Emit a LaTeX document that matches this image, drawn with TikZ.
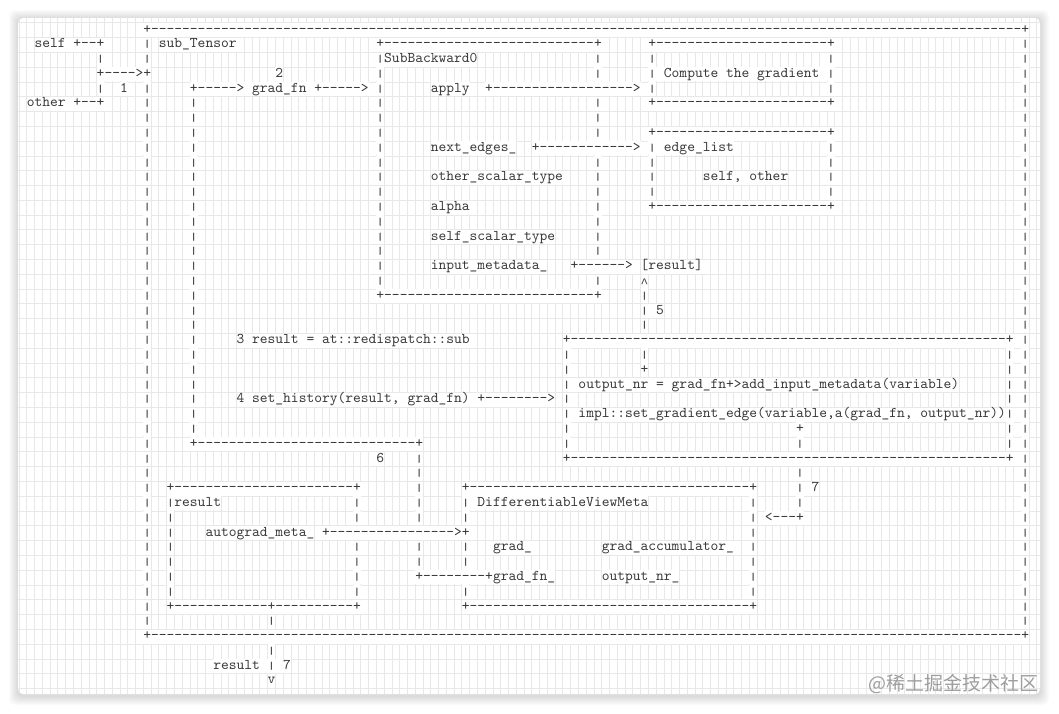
\documentclass[tikz,border=0pt]{standalone}
\usepackage{fontspec}
\usepackage{graphicx}
\newfontfamily\asciifont{lmmono10-regular}[Extension=.otf,WordSpace={1,0,0},PunctuationSpace=WordSpace]
\newfontfamily\caretfont{Liberation Mono}
\newfontfamily\wmfont{Noto Sans CJK SC}
\ExplSyntaxOn
\cs_new:Npn \asciirep #1#2 { \prg_replicate:nn {#1} {#2} }
\ExplSyntaxOff
\newcount\nidx
\def\axo{26.6}\def\ayo{30}\def\acw{7.77}\def\arh{14.795}
\newcommand\asciibar{\scalebox{1}[0.72]{|}}
\newcommand\At[3]{\global\advance\nidx by 1\relax\node[asc] (n\the\nidx) at ({\axo+\acw*(#1)},{\ayo+\arh*(#2)}) {#3};}
\newcommand\Vb[3]{\foreach \rr in {#2,...,#3}{\At{#1}{\rr}{\asciibar}}}
\newcommand\Hl[3]{\At{#1}{#3}{+\asciirep{\numexpr#2-#1-1\relax}{-}+}}
\begin{document}
\begin{tikzpicture}[x=1pt,y=-1pt,
  asc/.style={anchor=west,inner sep=0pt,text height=10pt,text depth=4pt,fill=white,
    text=black!78,font=\asciifont\fontsize{14.8}{15}\selectfont},
  gridline/.style={draw=black!9,line width=0.5pt}]
\useasboundingbox (0,0) rectangle (1059,713);
\fill[white] (0,0) rectangle (1059,713);
% card shadow
\foreach \i in {1,...,9}{\fill[black,opacity=0.014,rounded corners=6] ({18-\i},{19-\i}) rectangle ({1040+\i},{696+\i});}
\fill[white,rounded corners=5] (18,18) rectangle (1040,694);
% grid
\begin{scope}
\clip[rounded corners=5] (18,18) rectangle (1040,694);
\foreach \k in {-1,...,130}{\draw[gridline] ({\axo+\acw*\k},18) -- ({\axo+\acw*\k},694);}
\foreach \r in {-1,...,44}{\draw[gridline] (18,{\ayo+\arh*(\r+0.5)}) -- (1040,{\ayo+\arh*(\r+0.5)});}
\end{scope}
% outer box
\Hl{15}{128}{0}
\Hl{15}{128}{41}
\Vb{15}{1}{2}
\Vb{15}{4}{40}
\Vb{128}{1}{40}
% inputs
\At{1}{1}{self +--+}
\At{9}{2}{\asciibar}
\At{9}{3}{+---->+}
\At{9}{4}{\asciibar}
\At{12}{4}{1}
\At{0}{5}{other +--+}
\At{17}{1}{sub\_Tensor}
\At{32}{3}{2}
\At{21}{4}{+-----> grad\_fn +----->}
\Vb{21}{5}{27}
% SubBackward0
\Hl{45}{73}{1}
\At{45}{2}{\asciibar SubBackward0}
\Vb{45}{3}{17}
\foreach \r in {2,3,5,6,7,9,10,11,12,13,14,15,17}{\At{73}{\r}{\asciibar}}
\Hl{45}{73}{18}
\At{52}{4}{apply}
\At{59}{4}{+\asciirep{18}{-}>}
\At{52}{8}{next\_edges\_}
\At{65}{8}{+\asciirep{12}{-}>}
\At{52}{10}{other\_scalar\_type}
\At{52}{12}{alpha}
\At{52}{14}{self\_scalar\_type}
\At{52}{16}{input\_metadata\_}
\At{70}{16}{+\asciirep{6}{-}>}
\At{79}{16}{[result]}
% Compute box
\Hl{80}{103}{1}
\At{80}{2}{\asciibar}
\At{103}{2}{\asciibar}
\At{80}{3}{\asciibar{} Compute the gradient \asciibar}
\At{80}{4}{\asciibar}
\At{103}{4}{\asciibar}
\Hl{80}{103}{5}
% edge_list box
\Hl{80}{103}{7}
\At{80}{8}{\asciibar{} edge\_list}
\Vb{80}{9}{11}
\Vb{103}{8}{11}
\At{87}{10}{self, other}
\Hl{80}{103}{12}
% result path
\At{79}{17}{\raisebox{-3pt}{\caretfont\fontsize{12.9}{15}\selectfont\textasciicircum}}
\At{79}{18}{\asciibar}
\At{79}{19}{\asciibar{} 5}
\At{79}{20}{\asciibar}
\At{27}{21}{3 result = at::redispatch::sub}
\At{27}{25}{4 set\_history(result, grad\_fn) +\asciirep{8}{-}>}
% set_history box
\Hl{69}{126}{21}
\Vb{69}{22}{28}
\Vb{126}{22}{28}
\At{79}{22}{\asciibar}
\At{79}{23}{+}
\At{71}{24}{output\_nr = grad\_fn+>add\_input\_metadata(variable)}
\At{71}{26}{impl::set\_gradient\_edge(variable,a(grad\_fn, output\_nr))}
\At{99}{27}{+}
\At{99}{28}{\asciibar}
\Hl{69}{126}{29}
\Hl{21}{50}{28}
\At{45}{29}{6}
\Vb{50}{29}{33}
\Vb{50}{35}{36}
\At{99}{30}{\asciibar}
\At{99}{31}{\asciibar{} 7}
\At{99}{32}{\asciibar}
\At{95}{33}{<---+}
% result box
\Hl{18}{42}{31}
\At{18}{32}{\asciibar result}
\Vb{18}{33}{38}
\Vb{42}{32}{33}
\Vb{42}{35}{38}
\At{23}{34}{autograd\_meta\_}
\At{38}{34}{+\asciirep{16}{-}>+}
\At{18}{39}{+\asciirep{12}{-}+\asciirep{10}{-}+}
\At{31}{40}{\asciibar}
\At{31}{42}{\asciibar}
\At{24}{43}{result \asciibar{} 7}
\At{31}{44}{v}
% DifferentiableViewMeta box
\Hl{56}{93}{31}
\At{56}{32}{\asciibar{} DifferentiableViewMeta}
\foreach \r in {33,35,36,38}{\At{56}{\r}{\asciibar}}
\Vb{93}{32}{38}
\At{60}{35}{grad\_}
\At{74}{35}{grad\_accumulator\_}
\At{50}{37}{+\asciirep{8}{-}+grad\_fn\_}
\At{74}{37}{output\_nr\_}
\Hl{56}{93}{39}
% watermark
\node[anchor=east,inner sep=0pt,text=black!38,font=\wmfont\fontsize{19}{19}\selectfont] (wm) at (1039,684) {@稀土掘金技术社区};
\end{tikzpicture}
\end{document}
